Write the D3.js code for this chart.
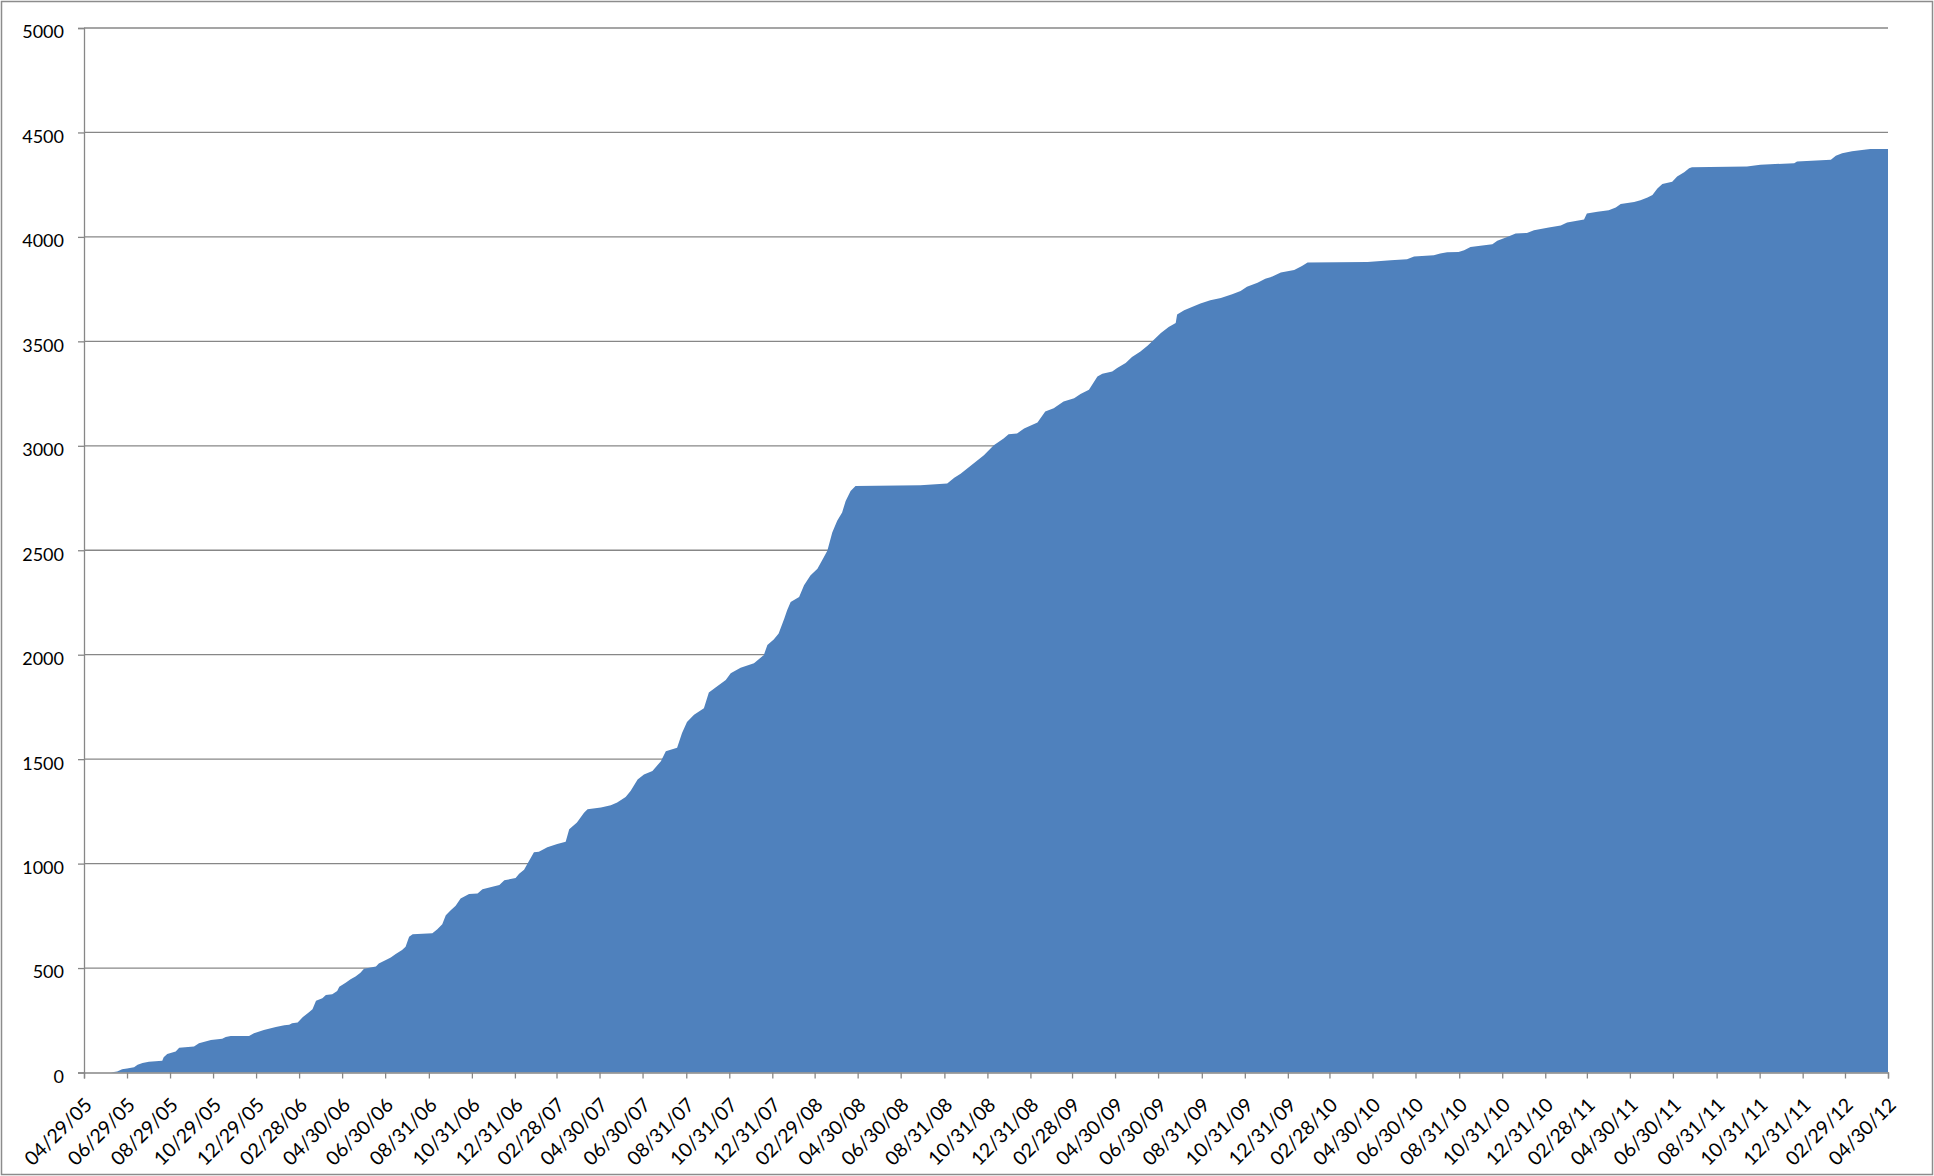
<!DOCTYPE html>
<html lang="en">
<head>
    <meta charset="UTF-8">
    <title>Cumulative total</title>
    <script src="https://d3js.org/d3.v7.min.js"></script>
    <style>
        body {
            margin: 0;
            background: #fff;
        }
        svg text {
            font-family: Lato, "Open Sans", sans-serif;
            fill: #000;
        }
    </style>
</head>
<body>
    <div class="chart"></div>
    <script>
        // Dates are read as day offsets from the first date on the axis
        const startDate = '2005-04-29';
        const endDate = '2012-04-30';

        const dayOffsets = [
            0, 38, 47, 54, 61, 71, 76, 83, 92, 111, 113, 118, 130, 135, 156, 163, 180, 196, 201, 208,
            234, 241, 255, 272, 284, 291, 295, 303, 310, 319, 324, 329, 338, 343, 352, 359, 362, 371, 378, 385,
            392, 397, 414, 418, 428, 435, 442, 451, 456, 461, 466, 494, 501, 508, 513, 520, 527, 534, 546, 558,
            565, 579, 589, 596, 612, 617, 624, 629,
            638, 645, 657, 671, 683, 688, 699, 709, 714, 733, 747, 756, 768, 775, 785, 794, 806, 818, 825, 841,
            848, 855, 865, 879, 886, 896, 910, 917, 931, 950, 964, 969, 978, 985, 993, 997, 1002, 1014, 1021, 1030,
            1040, 1049, 1054, 1061, 1068, 1075, 1080, 1087, 1094, 1186, 1224, 1234, 1243,
            1276, 1290, 1304, 1311, 1323, 1333, 1352, 1363, 1375, 1389, 1404, 1413, 1425, 1437, 1444, 1458, 1465, 1477, 1486, 1498,
            1508, 1517, 1527, 1538, 1548, 1550, 1560, 1571, 1583, 1597, 1612, 1628, 1640, 1649, 1664, 1675, 1685, 1697, 1716, 1727,
            1735, 1820, 1853, 1876, 1886,
            1914, 1923, 1933, 1949, 1957, 1966, 1980, 1997, 2004, 2018, 2030, 2046, 2056, 2077, 2094, 2103, 2117, 2127, 2131, 2146,
            2162, 2172, 2179, 2198, 2207, 2217, 2224, 2231, 2238, 2252, 2259, 2269, 2276, 2280, 2358, 2377, 2425, 2429, 2477, 2484,
            2493, 2507, 2524, 2533, 2558
        ];

        const totals = [
            0, 0, 5, 16, 19, 25, 37, 46, 51, 56, 73, 89, 100, 119, 124, 140, 156, 162, 170, 175,
            175, 188, 204, 218, 226, 228, 236, 239, 264, 288, 303, 344, 355, 371, 374, 390, 411, 430, 446, 459,
            478, 497, 508, 522, 538, 551, 567, 586, 602, 650, 662, 667, 686, 710, 753, 777, 798, 833, 854, 857,
            877, 889, 897, 920, 931, 952, 971, 1000,
            1054, 1057, 1078, 1094, 1105, 1165, 1197, 1244, 1260, 1268, 1279, 1292, 1319, 1348, 1403, 1427, 1443, 1490, 1538, 1554,
            1625, 1678, 1713, 1744, 1819, 1844, 1879, 1911, 1938, 1959, 1998, 2046, 2073, 2101, 2173, 2213, 2252, 2276, 2332, 2379,
            2411, 2467, 2498, 2585, 2641, 2681, 2736, 2784, 2808, 2811, 2819, 2847, 2866,
            2955, 3003, 3035, 3055, 3059, 3083, 3111, 3164, 3180, 3212, 3228, 3248, 3268, 3332, 3345, 3356, 3372, 3396, 3425, 3452,
            3479, 3508, 3540, 3569, 3588, 3628, 3649, 3664, 3681, 3697, 3708, 3725, 3741, 3761, 3781, 3800, 3810, 3829, 3842, 3861,
            3877, 3880, 3888, 3893, 3906,
            3912, 3920, 3926, 3928, 3936, 3952, 3958, 3965, 3981, 4000, 4016, 4019, 4032, 4045, 4055, 4069, 4077, 4083, 4112, 4120,
            4128, 4141, 4157, 4167, 4176, 4189, 4200, 4232, 4253, 4264, 4289, 4309, 4329, 4333, 4337, 4345, 4353, 4361, 4369, 4388,
            4401, 4410, 4417, 4421, 4421
        ];

        const tickLabels = [
            '04/29/05', '06/29/05', '08/29/05', '10/29/05', '12/29/05', '02/28/06', '04/30/06', '06/30/06',
            '08/31/06', '10/31/06', '12/31/06', '02/28/07', '04/30/07', '06/30/07', '08/31/07', '10/31/07',
            '12/31/07', '02/29/08', '04/30/08', '06/30/08', '08/31/08', '10/31/08', '12/31/08', '02/28/09',
            '04/30/09', '06/30/09', '08/31/09', '10/31/09', '12/31/09', '02/28/10', '04/30/10', '06/30/10',
            '08/31/10', '10/31/10', '12/31/10', '02/28/11', '04/30/11', '06/30/11', '08/31/11', '10/31/11',
            '12/31/11', '02/29/12', '04/30/12'
        ];

        const yTicks = [0, 500, 1000, 1500, 2000, 2500, 3000, 3500, 4000, 4500, 5000];

        const width = 1934;
        const height = 1176;
        const margin = { top: 28, right: 46, bottom: 103.5, left: 84 };

        const parseIso = d3.timeParse('%Y-%m-%d');
        const parseLabel = d3.timeParse('%m/%d/%y');
        const start = parseIso(startDate);
        const end = parseIso(endDate);

        const points = dayOffsets.map((d, i) => ({ date: d3.timeDay.offset(start, d), value: totals[i] }));
        const tickDates = tickLabels.map(parseLabel);

        const x = d3.scaleTime()
            .domain([start, end])
            .range([margin.left, width - margin.right]);
        const y = d3.scaleLinear()
            .domain([0, 5000])
            .range([height - margin.bottom, margin.top]);

        const svg = d3.select('.chart').append('svg')
            .attr('width', width)
            .attr('height', height);

        // outer frame
        svg.append('rect')
            .attr('x', 1.5).attr('y', 1.5)
            .attr('width', width - 3).attr('height', height - 3)
            .attr('fill', '#fff')
            .attr('stroke', '#8c8c8c')
            .attr('stroke-width', 1.5);

        // gridlines
        svg.append('g')
            .selectAll('line')
            .data(yTicks.filter(t => t > 0))
            .join('line')
            .attr('x1', margin.left).attr('x2', width - margin.right)
            .attr('y1', d => y(d)).attr('y2', d => y(d))
            .attr('stroke', '#878787')
            .attr('stroke-width', 1.3);

        const area = d3.area()
            .x(d => x(d.date))
            .y0(y(0))
            .y1(d => y(d.value));

        svg.append('path')
            .datum(points)
            .attr('fill', '#4f81bd')
            .attr('d', area);

        // y axis
        const yAxis = svg.append('g')
            .attr('transform', `translate(${margin.left},0)`)
            .call(d3.axisLeft(y).tickValues(yTicks).tickSize(6).tickPadding(14).tickFormat(d3.format('d')));
        yAxis.selectAll('text')
            .attr('font-size', 18)
            .attr('dy', '0.55em');

        // x axis
        const xAxis = svg.append('g')
            .attr('transform', `translate(0,${y(0)})`)
            .call(d3.axisBottom(x).tickValues(tickDates).tickSize(6).tickFormat((d, i) => tickLabels[i]));
        xAxis.selectAll('text')
            .attr('font-size', 19.5)
            .attr('text-anchor', 'end')
            .attr('transform', 'translate(4,29) rotate(-45)')
            .attr('y', 0)
            .attr('dy', '0.35em');

        svg.selectAll('.domain, .tick line')
            .attr('stroke', '#878787')
            .attr('stroke-width', 1.3);
        svg.selectAll('.tick text').attr('fill', '#000');
    </script>
</body>
</html>
